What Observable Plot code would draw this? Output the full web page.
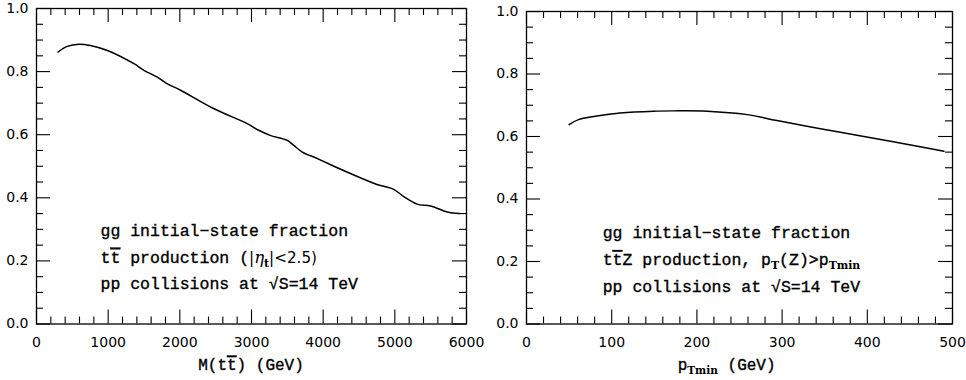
<!DOCTYPE html>
<html><head><meta charset="utf-8">
<script src="https://cdn.jsdelivr.net/npm/d3@7"></script>
<script src="https://cdn.jsdelivr.net/npm/@observablehq/plot@0.6"></script>
<style>
body{margin:0;background:#fff;}
#wrap{display:grid;grid-template-columns:483px 483px;}
.cell{position:relative;height:380px;}
</style></head><body><div id="wrap"><div class="cell" id="c1"></div><div class="cell" id="c2"></div></div>
<script>
// Left panel: gg fraction vs M(tt̄)
const massGeV = [300, 430, 590, 750, 990, 1360, 1500, 1680, 1820, 2010, 2470, 2940, 3100, 3260, 3500, 3590, 3710, 3920, 4150, 4380, 4660, 4750, 4870, 4990, 5130, 5310, 5500, 5730, 5900];
const massFrac = [0.862, 0.880, 0.887, 0.883, 0.867, 0.825, 0.804, 0.783, 0.762, 0.741, 0.683, 0.635, 0.614, 0.598, 0.582, 0.566, 0.545, 0.524, 0.500, 0.477, 0.450, 0.442, 0.435, 0.426, 0.403, 0.380, 0.374, 0.355, 0.350];
// Right panel: gg fraction vs pTmin
const ptMin = [50, 61, 79, 110, 149, 172, 212, 259, 294, 345, 396, 443, 490];
const ptFrac = [0.638, 0.654, 0.664, 0.675, 0.681, 0.682, 0.681, 0.670, 0.651, 0.625, 0.600, 0.577, 0.553];

const leftMajorX = [0, 1000, 2000, 3000, 4000, 5000, 6000];
const rightMajorX = [0, 100, 200, 300, 400, 500];
const majorY = [0, 0.2, 0.4, 0.6, 0.8, 1.0];
const leftMinorX = d3.range(0, 6001, 200).filter(v => v % 1000 !== 0);
const rightMinorX = d3.range(0, 501, 20).filter(v => v % 100 !== 0);
const minorY = [0.05, 0.1, 0.15, 0.25, 0.3, 0.35, 0.45, 0.5, 0.55, 0.65, 0.7, 0.75, 0.85, 0.9, 0.95];

const annoFont = "'Liberation Mono', monospace";

function frameMarks(majX, minX, fw, fh) {
  const s = {stroke: "black", strokeWidth: 1.1};
  const MAJ = 14, MIN = 7;
  return [
    Plot.ruleX(majX, {...s, insetTop: fh - MAJ}),
    Plot.ruleX(majX, {...s, insetBottom: fh - MAJ}),
    Plot.ruleX(minX, {...s, insetTop: fh - MIN}),
    Plot.ruleX(minX, {...s, insetBottom: fh - MIN}),
    Plot.ruleY(majorY, {...s, insetRight: fw - MAJ}),
    Plot.ruleY(majorY, {...s, insetLeft: fw - MAJ}),
    Plot.ruleY(minorY, {...s, insetRight: fw - MIN}),
    Plot.ruleY(minorY, {...s, insetLeft: fw - MIN}),
    Plot.axisX(majX, {anchor: "bottom", tickSize: 0, tickPadding: 13, label: null, tickFormat: d => String(d)}),
    Plot.axisY(majorY, {anchor: "left", tickSize: 0, tickPadding: 8, label: null, tickFormat: d => d.toFixed(1)}),
    Plot.frame({stroke: "black", strokeWidth: 1.3})
  ];
}

function addText(svg, x, y, segs, size, anchor) {
  const t = d3.select(svg).append("text")
    .attr("x", x).attr("y", y)
    .attr("font-family", annoFont).attr("font-size", size)
    .attr("fill", "black").attr("stroke", "black").attr("stroke-width", 0.35)
    .attr("text-anchor", anchor || "start")
    .style("white-space", "pre");
  let pending = 0;
  for (const s of segs) {
    const sp = t.append("tspan");
    let shift = 0;
    if (typeof s === "string") sp.text(s);
    else if (s.sub !== undefined) { sp.text(s.sub).attr("font-size", size * 0.66).attr("font-family", "'DejaVu Serif', serif").attr("font-weight", "bold").attr("stroke-width", 0); shift = 4; }
    else if (s.over !== undefined) { sp.text(s.over).style("text-decoration", "overline"); }
    else if (s.it !== undefined) { sp.text(s.it).attr("font-family", "'DejaVu Serif', serif").attr("font-style", "italic").attr("stroke-width", 0); }
    else if (s.sans !== undefined) { sp.text(s.sans).attr("font-family", "'DejaVu Sans', sans-serif").attr("font-size", size * 0.92).attr("stroke-width", 0); }
    const dy = shift - pending;
    if (dy) sp.attr("dy", dy);
    pending = shift;
  }
}

const W = 483, H = 380;
const common = {
  width: W, height: H,
  style: {fontFamily: "'DejaVu Sans', sans-serif", fontSize: "14px", color: "black", background: "transparent", overflow: "visible"},
  y: {domain: [0, 1]}
};

const L = {ml: 36, mr: 17, mt: 8, mb: 56.5};
const R = {ml: 43, mr: 14, mt: 11, mb: 56.5};

const left = Plot.plot({
  ...common,
  marginLeft: L.ml, marginRight: L.mr, marginTop: L.mt, marginBottom: L.mb,
  x: {domain: [0, 6000]},
  marks: [
    ...frameMarks(leftMajorX, leftMinorX, W - L.ml - L.mr, H - L.mt - L.mb),
    Plot.line(massGeV.map((m, i) => ({m, f: massFrac[i]})), {x: "m", y: "f", stroke: "black", strokeWidth: 1.5, curve: "catmull-rom"})
  ]
});

const right = Plot.plot({
  ...common,
  marginLeft: R.ml, marginRight: R.mr, marginTop: R.mt, marginBottom: R.mb,
  x: {domain: [0, 500]},
  marks: [
    ...frameMarks(rightMajorX, rightMinorX, W - R.ml - R.mr, H - R.mt - R.mb),
    Plot.line(ptMin.map((p, i) => ({p, f: ptFrac[i]})), {x: "p", y: "f", stroke: "black", strokeWidth: 1.5, curve: "catmull-rom"})
  ]
});

document.getElementById("c1").appendChild(left);
document.getElementById("c2").appendChild(right);

// Annotations
const lx = left.scale("x"), ly = left.scale("y");
addText(left, lx.apply(900), ly.apply(0.276), ["gg initial\u2212state fraction"], 16.5);
addText(left, lx.apply(900), ly.apply(0.193), ["t", {over: "t"}, " production (", {sans: "|"}, {it: "\u03b7"}, {sub: "t"}, {sans: "|<2.5)"}], 16.5);
addText(left, lx.apply(900), ly.apply(0.108), ["pp collisions at \u221aS=14 TeV"], 16.5);
addText(left, lx.apply(3000), ly.apply(0) + 46, ["M(t", {over: "t"}, ") (GeV)"], 16, "middle");

const rx = right.scale("x"), ry = right.scale("y");
addText(right, rx.apply(90), ry.apply(0.275), ["gg initial\u2212state fraction"], 16.5);
addText(right, rx.apply(90), ry.apply(0.187), ["t", {over: "t"}, "Z production, p", {sub: "T"}, "(Z)>p", {sub: "Tmin"}], 16.5);
addText(right, rx.apply(90), ry.apply(0.102), ["pp collisions at \u221aS=14 TeV"], 16.5);
addText(right, rx.apply(178), ry.apply(0) + 46, ["p", {sub: "Tmin"}, " (GeV)"], 16, "start");
</script></body></html>
